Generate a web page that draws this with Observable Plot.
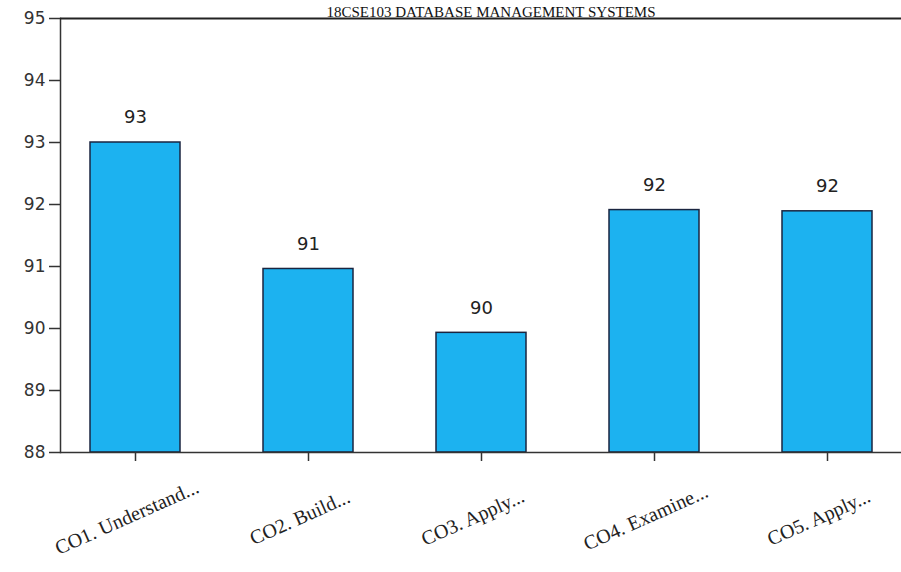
<!DOCTYPE html>
<html>
<head>
<meta charset="utf-8">
<script src="https://cdn.jsdelivr.net/npm/d3@7"></script>
<script src="https://cdn.jsdelivr.net/npm/@observablehq/plot@0.6"></script>
<style>
  html, body { margin: 0; padding: 0; background: #fff; }
  #chart { width: 901px; height: 572px; overflow: hidden; }
</style>
</head>
<body>
<div id="chart"></div>
<script>
const title = "18CSE103 DATABASE MANAGEMENT SYSTEMS";
const categories = ["CO1. Understand...", "CO2. Build...", "CO3. Apply...", "CO4. Examine...", "CO5. Apply..."];
const values = [93, 90.96, 89.93, 91.91, 91.89];
const valueLabels = ["93", "91", "90", "92", "92"];
const yTicks = [88, 89, 90, 91, 92, 93, 94, 95];

const data = categories.map((c, i) => ({cat: c, value: values[i], label: valueLabels[i]}));

const chart = Plot.plot({
  width: 901,
  height: 572,
  marginTop: 18,
  marginLeft: 60,
  marginRight: 0,
  marginBottom: 120,
  style: {background: "#fff", color: "#222"},
  x: {domain: categories, paddingInner: 0.48, paddingOuter: 0.17},
  y: {domain: [88, 95]},
  marks: [
    Plot.barY(data, {x: "cat", y1: 88, y2: "value", fill: "#1cb2f0", stroke: "#1a2540", strokeWidth: 1.5}),
    Plot.frame({anchor: "left", stroke: "#333", strokeWidth: 1.5}),
    Plot.ruleY([95], {stroke: "#222", strokeWidth: 2}),
    Plot.ruleY([88], {stroke: "#333", strokeWidth: 1.5}),
    Plot.axisY({ticks: yTicks, tickFormat: "d", tickSize: 11, tickPadding: 4, fontSize: 17, fontFamily: "DejaVu Sans", stroke: "#333", strokeWidth: 1.5, label: null, fill: "#333"}),
    Plot.axisX({tickSize: 9, tickFormat: () => "", label: null, stroke: "#333", strokeWidth: 1.5}),
    Plot.text(data, {x: "cat", frameAnchor: "bottom", text: "cat", rotate: -24, textAnchor: "middle", dx: -6, dy: 71, fontSize: 20, fontFamily: "Liberation Serif", fill: "#222"}),
    Plot.text(data, {x: "cat", y: "value", text: "label", dy: -25, fontSize: 18, fontFamily: "DejaVu Sans", fill: "#222"}),
    Plot.text([title], {frameAnchor: "top", lineAnchor: "bottom", text: d => d, dx: 10, dy: -2, fontSize: 15, fontFamily: "Liberation Serif", fill: "#111"})
  ]
});
document.getElementById("chart").appendChild(chart);
</script>
</body>
</html>
